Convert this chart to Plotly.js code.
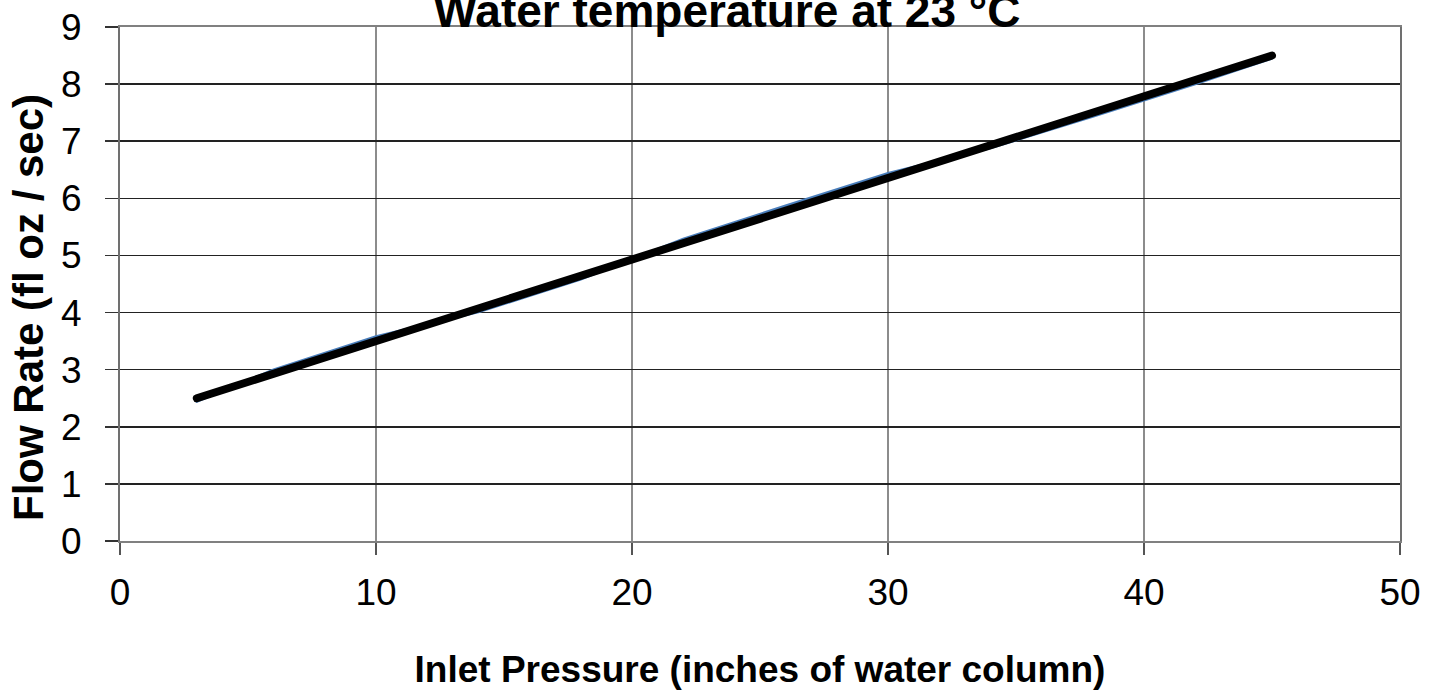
<!DOCTYPE html>
<html>
<head>
<meta charset="utf-8">
<script src="https://cdn.plot.ly/plotly-3.0.1.min.js"></script>
<style>html,body{margin:0;padding:0;background:#fff;}#chart{width:1442px;height:692px;}</style>
</head>
<body>
<div id="chart"></div>
<script>
// Measured flow rate (blue series)
const pressure = [3, 6, 10, 14, 18, 22, 26, 30, 34, 38, 42, 45];
const flowRate = [2.44, 3.0, 3.58, 4.01, 4.58, 5.29, 5.87, 6.44, 6.88, 7.43, 8.0, 8.45];
// Linear trend line (black)
const trendX = [3, 45];
const trendY = [2.5, 8.5];
const xTicks = [0, 10, 20, 30, 40, 50];
const yTicks = [0, 1, 2, 3, 4, 5, 6, 7, 8, 9];

const traces = [
  {x: pressure, y: flowRate, type: 'scatter', mode: 'lines',
   line: {color: '#4a7ebb', width: 2.5}, hoverinfo: 'skip', showlegend: false},
  {x: trendX, y: trendY, type: 'scatter', mode: 'lines',
   line: {color: '#000000', width: 8}, hoverinfo: 'skip', showlegend: false}
];

const layout = {
  width: 1442, height: 692,
  margin: {l: 120, r: 42, t: 27, b: 151, pad: 0},
  paper_bgcolor: '#ffffff', plot_bgcolor: '#ffffff',
  font: {family: 'Arial, Liberation Sans, sans-serif', color: '#000'},
  title: {text: '<b>Water temperature at 23 °C</b>', font: {size: 46, color: '#000'},
          x: 727/1442, xanchor: 'center', xref: 'container', y: 1 - 27/692, yref: 'container', yanchor: 'bottom'},
  xaxis: {
    range: [0, 50], tickvals: xTicks, ticktext: xTicks.map(String),
    showgrid: true, gridcolor: '#8c8c8c', gridwidth: 2,
    showline: true, linecolor: '#808080', linewidth: 2, mirror: true,
    ticks: 'outside', ticklen: 12, tickcolor: '#555', tickwidth: 1.5,
    tickfont: {size: 37}, ticklabelstandoff: 6, zeroline: false,
    title: {text: '<b>Inlet Pressure (inches of water column)</b>', font: {size: 37}, standoff: 44}
  },
  yaxis: {
    range: [0, 9], tickvals: yTicks, ticktext: yTicks.map(String),
    showgrid: true, gridcolor: '#222222', gridwidth: 1.5,
    showline: true, linecolor: '#707070', linewidth: 2, mirror: true,
    ticks: 'outside', ticklen: 13, tickcolor: '#333', tickwidth: 1.5,
    tickfont: {size: 37}, ticklabelstandoff: 16, zeroline: false
  },
  annotations: [{
    text: '<b>Flow Rate (fl oz / sec)</b>', textangle: -90, showarrow: false,
    xref: 'paper', yref: 'paper', x: (28 - 120) / 1280, y: (541 - 308) / 514,
    xanchor: 'center', yanchor: 'middle', font: {size: 42, color: '#000'}
  }]
};

Plotly.newPlot('chart', traces, layout, {staticPlot: true, displayModeBar: false}).then(function(){
  document.querySelectorAll('.scatterlayer .js-line').forEach(function(p){
    p.style.strokeLinecap = 'round';
  });
});
</script>
</body>
</html>
